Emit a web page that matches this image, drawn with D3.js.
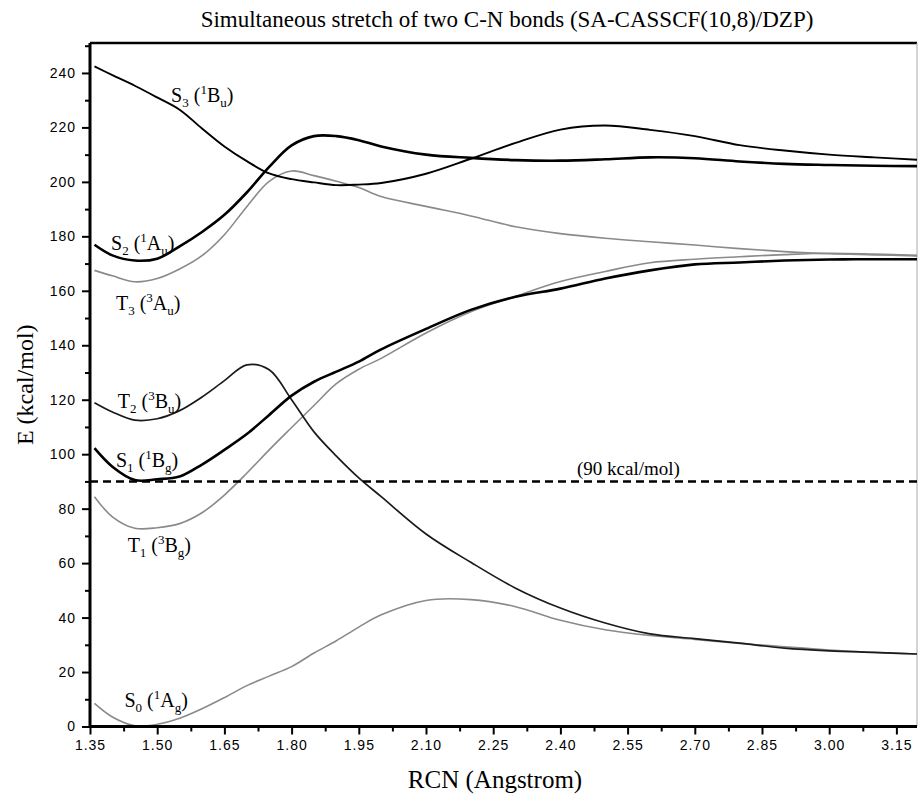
<!DOCTYPE html>
<html>
<head>
<meta charset="utf-8">
<script src="https://cdn.jsdelivr.net/npm/d3@7/dist/d3.min.js"></script>
<style>
  html, body { margin: 0; padding: 0; background: #fff; }
  svg { display: block; }
</style>
</head>
<body>
<svg id="chart" width="918" height="796"></svg>
<script>
// ---- data ----
const rcn = [1.36,1.40,1.45,1.50,1.55,1.60,1.65,1.70,1.75,1.80,1.85,1.90,1.95,2.00,2.10,2.20,2.30,2.40,2.50,2.60,2.70,2.80,2.90,3.00,3.10,3.20];

const S0 = [8.5,3.5,0.3,0.8,3.0,6.5,10.6,15.0,18.5,22.0,27.0,31.5,36.5,41.0,46.3,46.6,44.0,39.0,35.5,33.4,32.0,30.5,29.3,28.1,27.2,26.6];
const T1 = [84.4,77.0,72.8,73.0,74.5,78.5,85.0,93.0,101.6,109.8,117.9,125.9,131.2,135.2,144.5,152.3,158.0,163.4,167.1,170.3,171.6,172.5,173.3,173.8,173.5,173.0];
const S1 = [102.2,95.4,90.5,90.8,91.8,96.2,101.6,107.4,114.4,121.5,126.6,130.3,134.0,138.5,146.0,153.0,157.8,160.8,164.5,167.5,169.7,170.4,171.1,171.5,171.6,171.6];
const T2 = [118.9,115.5,112.5,113.0,116.0,121.0,127.0,132.8,131.0,120.0,108.2,99.3,91.3,84.4,70.7,60.3,50.8,43.5,38.0,34.0,32.3,30.6,28.8,27.8,27.2,26.6];
const T3 = [167.5,165.5,163.3,164.5,168.0,172.9,180.6,190.9,200.2,204.0,202.3,200.2,197.9,194.6,191.0,187.5,183.5,181.0,179.3,178.0,176.8,175.5,174.4,173.6,173.2,172.8];
const S2 = [176.9,173.0,171.1,171.8,176.3,181.6,187.9,196.1,205.5,213.4,216.8,216.8,215.3,213.0,210.0,208.8,208.0,207.8,208.3,209.0,208.7,207.5,206.6,206.2,205.9,205.8];
const S3 = [242.4,239.2,235.3,231.0,226.5,219.6,213.0,207.6,203.1,201.0,199.8,198.8,199.0,199.6,203.0,208.5,214.3,219.2,220.7,219.1,216.8,213.5,211.5,210.0,209.0,208.1];

const xTicks = [1.35,1.50,1.65,1.80,1.95,2.10,2.25,2.40,2.55,2.70,2.85,3.00,3.15];
const yTicks = [0,20,40,60,80,100,120,140,160,180,200,220,240];
const refLevel = 90;

const titleText = "Simultaneous stretch of two C-N bonds (SA-CASSCF(10,8)/DZP)";
const xTitle = "RCN (Angstrom)";
const yTitle = "E (kcal/mol)";
const refText = "(90 kcal/mol)";

// state labels: letter, index, multiplicity, symmetry letter, symmetry subscript
const stateNames = ["S3","S2","T3","T2","S1","T1","S0"];
const stateLetter = ["S","S","T","T","S","T","S"];
const stateIndex = ["3","2","3","2","1","1","0"];
const stateMult = ["1","1","3","3","1","3","1"];
const stateSym = ["B","A","A","B","B","B","A"];
const stateSub = ["u","u","u","u","g","g","g"];
// label anchors in data units (RCN, E)
const labelR = [1.531,1.397,1.408,1.412,1.408,1.434,1.427];
const labelE = [229.5,175.1,153.0,116.9,95.4,64.2,7.0];
const refLabelR = 2.552, refLabelE = 92.4;

// ---- layout ----
const W = 918, H = 796;
const mLeft = 90, mRight = 917, mTop = 43, mBottom = 726.5;

const svg = d3.select("#chart");
const x = d3.scaleLinear().domain([1.35, 3.196]).range([mLeft, mRight]);
const y = d3.scaleLinear().domain([0, 251]).range([mBottom, mTop]);

const serif = "'Liberation Serif','Times New Roman',Times,serif";
const sans = "'Liberation Sans',Arial,Helvetica,sans-serif";

// title
svg.append("text")
  .attr("x", 507).attr("y", 27)
  .attr("text-anchor", "middle")
  .attr("font-family", serif).attr("font-size", 23)
  .text(titleText);

// frame: top thick, right thin
svg.append("line").attr("x1", mLeft).attr("x2", mRight).attr("y1", mTop).attr("y2", mTop)
  .attr("stroke", "#000").attr("stroke-width", 2.5);
svg.append("line").attr("x1", mRight).attr("x2", mRight).attr("y1", mTop).attr("y2", mBottom)
  .attr("stroke", "#aaa").attr("stroke-width", 1);

// curves
const series = [
  {name: "S0", v: S0, color: "#8a8a8a", w: 1.6},
  {name: "T1", v: T1, color: "#8a8a8a", w: 1.6},
  {name: "T3", v: T3, color: "#8a8a8a", w: 1.6},
  {name: "T2", v: T2, color: "#1a1a1a", w: 1.7},
  {name: "S3", v: S3, color: "#000", w: 1.9},
  {name: "S1", v: S1, color: "#000", w: 2.6},
  {name: "S2", v: S2, color: "#000", w: 2.6}
];
const line = d3.line()
  .x((d, i) => x(rcn[i]))
  .y(d => y(d))
  .curve(d3.curveCatmullRom.alpha(0.5));

svg.append("clipPath").attr("id", "plotclip")
  .append("rect").attr("x", mLeft).attr("y", mTop).attr("width", mRight - mLeft).attr("height", mBottom - mTop);

const g = svg.append("g").attr("clip-path", "url(#plotclip)");
series.forEach(s => {
  g.append("path")
    .attr("d", line(s.v))
    .attr("fill", "none")
    .attr("stroke", s.color)
    .attr("stroke-width", s.w)
    .attr("stroke-linejoin", "round");
});

// 90 kcal/mol reference dashed line
g.append("line")
  .attr("x1", x(1.35)).attr("x2", mRight)
  .attr("y1", y(refLevel)).attr("y2", y(refLevel))
  .attr("stroke", "#000").attr("stroke-width", 2.5)
  .attr("stroke-dasharray", "8,5");

svg.append("text")
  .attr("x", x(refLabelR)).attr("y", y(refLabelE))
  .attr("text-anchor", "middle")
  .attr("font-family", serif).attr("font-size", 19)
  .text(refText);

// axes
const xAxis = d3.axisBottom(x).tickValues(xTicks).tickSize(8).tickPadding(6)
  .tickFormat(d3.format(".2f"));
const xMinor = d3.axisBottom(x).tickValues(d3.range(1.425, 3.2, 0.15)).tickSize(5).tickFormat("");
const yAxis = d3.axisLeft(y).tickValues(yTicks).tickSize(8).tickPadding(6);
const yMinor = d3.axisLeft(y).tickValues(d3.range(10, 251, 20)).tickSize(5).tickFormat("");

function styleAxis(sel) {
  sel.select(".domain").remove();
  sel.selectAll(".tick line").attr("stroke", "#000").attr("stroke-width", 2);
  sel.selectAll(".tick text")
    .attr("font-family", sans).attr("font-size", 14)
    .attr("letter-spacing", "1px").attr("fill", "#000");
}

svg.append("g").attr("transform", `translate(0,${mBottom})`).call(xAxis).call(styleAxis);
svg.append("g").attr("transform", `translate(0,${mBottom})`).call(xMinor).call(styleAxis);
svg.append("g").attr("transform", `translate(${mLeft},0)`).call(yAxis).call(styleAxis);
svg.append("g").attr("transform", `translate(${mLeft},0)`).call(yMinor).call(styleAxis);

// axis lines (thick)
svg.append("line").attr("x1", mLeft).attr("x2", mRight).attr("y1", mBottom).attr("y2", mBottom)
  .attr("stroke", "#000").attr("stroke-width", 3);
svg.append("line").attr("x1", mLeft).attr("x2", mLeft).attr("y1", mTop).attr("y2", mBottom + 1.5)
  .attr("stroke", "#000").attr("stroke-width", 3);

// axis titles
svg.append("text")
  .attr("x", 495).attr("y", 788)
  .attr("text-anchor", "middle")
  .attr("font-family", serif).attr("font-size", 25)
  .text(xTitle);

svg.append("text")
  .attr("transform", `translate(33,${(mTop + mBottom) / 2}) rotate(-90)`)
  .attr("text-anchor", "middle")
  .attr("font-family", serif).attr("font-size", 24)
  .text(yTitle);

// state labels with sub/superscripts
stateNames.forEach((n, i) => {
  const t = svg.append("text")
    .attr("x", x(labelR[i])).attr("y", y(labelE[i]))
    .attr("font-family", serif).attr("font-size", 20);
  t.append("tspan").text(stateLetter[i]);
  t.append("tspan").attr("font-size", 13).attr("dy", 5).text(stateIndex[i]);
  t.append("tspan").attr("dy", -5).text("\u00a0(");
  t.append("tspan").attr("font-size", 13).attr("dy", -8).text(stateMult[i]);
  t.append("tspan").attr("dy", 8).text(stateSym[i]);
  t.append("tspan").attr("font-size", 13).attr("dy", 5).text(stateSub[i]);
  t.append("tspan").attr("dy", -5).text(")");
});
</script>
</body>
</html>
